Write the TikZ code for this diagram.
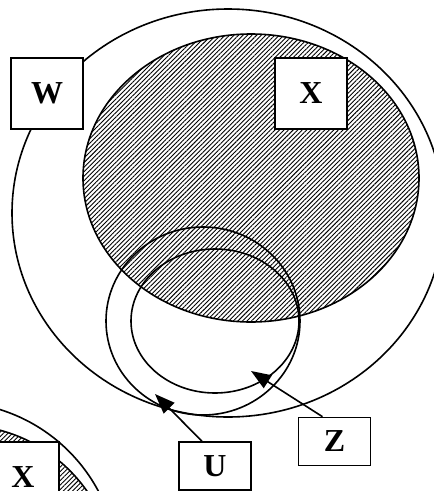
\documentclass[tikz,border=0pt]{standalone}
\usepackage{fontspec}
\setmainfont{Liberation Serif}
\usetikzlibrary{arrows.meta,patterns.meta}
\tikzset{
  setln/.style={line width=1.6pt, black},
  hatchX/.style={line width=1.6pt, black, pattern={Lines[angle=45, distance=3.2pt, line width=0.9pt]}},
  lbox/.style={draw, line width=1.6pt, fill=white, inner sep=0pt, minimum width=72pt, minimum height=71pt, font=\fontsize{32}{34}\selectfont\bfseries},
  sbox/.style={lbox, minimum height=48pt},
  ptr/.style={line width=1.6pt, -{Triangle[length=20pt, width=15pt]}},
}

\begin{document}
\begin{tikzpicture}[x=1pt, y=-1pt]
\useasboundingbox (0,0) rectangle (434,491);
\clip (0,0) rectangle (434,491);
\begin{scope}
  \draw[setln] (-50,570) circle [radius=168];
  \draw[hatchX] (-40,580) circle [radius=155];
\end{scope}
\begin{scope}
  \draw[setln] (228,213) ellipse [x radius=216, y radius=204];
  \draw[hatchX] (251,178) ellipse [x radius=168, y radius=144];
  \draw[setln] (203,321) ellipse [x radius=97, y radius=94];
  \draw[setln] (215,321) ellipse [x radius=84, y radius=72];
\end{scope}
\node[lbox] (wbox) at (47,93.5) {W};
\node[lbox] (xbox) at (311,93.5) {X};
\node[sbox] (ubox) at (215,466) {U};
\node[sbox] (zbox) at (334.5,441.5) {Z};
\node[lbox] (xboxb) at (23,477.5) {X};
\coordinate (utip) at (155,394);
\coordinate (ztip) at (251,371);
\draw[ptr] ([xshift=-13pt]ubox.north) -- (utip);
\draw[ptr] ([xshift=-12pt]zbox.north) -- (ztip);
\end{tikzpicture}
\end{document}
